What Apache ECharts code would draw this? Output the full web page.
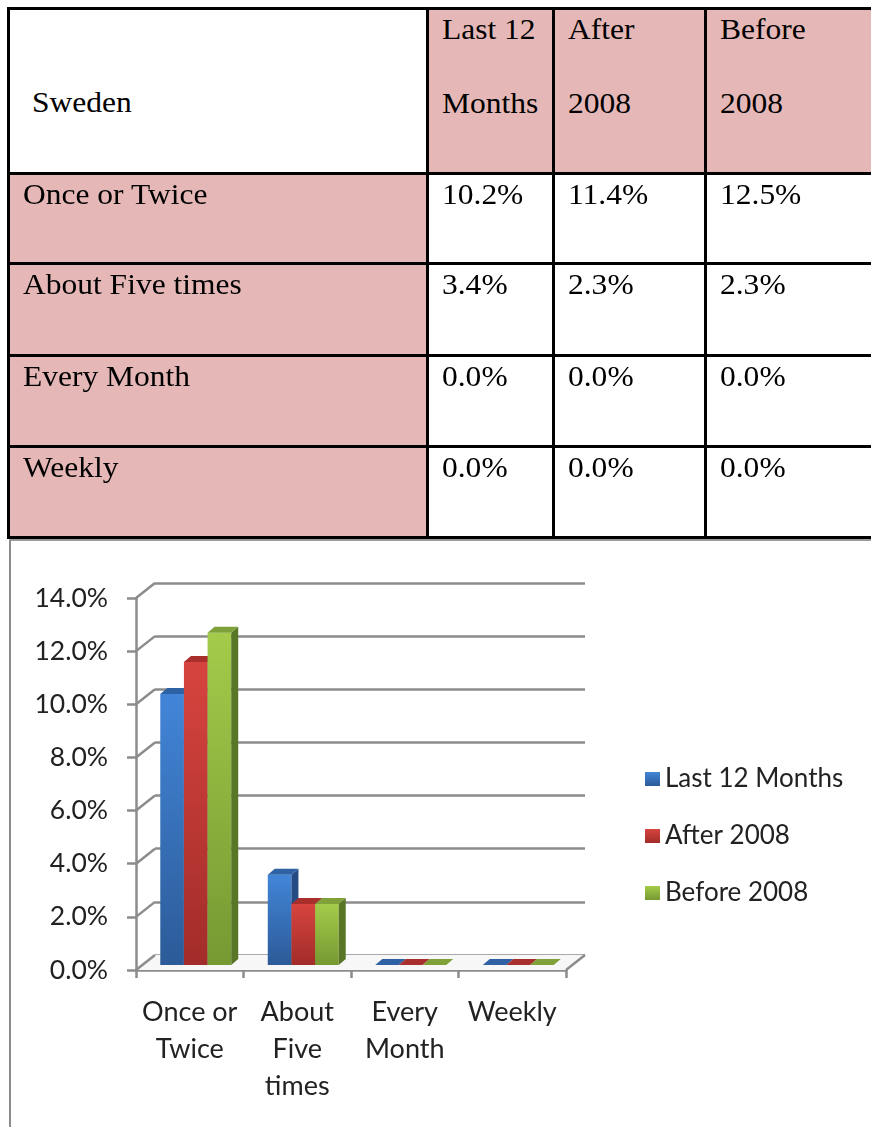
<!DOCTYPE html>
<html>
<head>
<meta charset="utf-8">
<script src="https://cdn.jsdelivr.net/npm/echarts@6/dist/echarts.min.js"></script>
<style>
  html, body { margin: 0; padding: 0; background: #fff; overflow: hidden; }
  #page { position: relative; width: 871px; height: 1127px; overflow: hidden; }
  #main { position: absolute; left: 0; top: 0; width: 871px; height: 1127px; }
  #frame { position: absolute; left: 9px; top: 539px; width: 900px; height: 700px;
           border-left: 2px solid #8c8c8c; border-top: 2px solid #8c8c8c; }
  #table { position: absolute; left: 0; top: 0; width: 871px; height: 541px; }
  .cell { position: absolute; }
  .line { position: absolute; background: #000; }
  .txt { position: absolute; font-family: "Liberation Serif"; font-weight: normal;
         font-size: 30px; line-height: 30px; color: #000; white-space: pre;
         transform: scaleX(1.05); transform-origin: 0 0; }
</style>
</head>
<body>
<div id="page">
  <div id="frame"></div>
  <div id="main"></div>
  <div id="table"></div>
</div>
<script>
// data
var CATEGORIES = ['Once or Twice', 'About Five times', 'Every Month', 'Weekly'];
var AXIS_LABELS = ['Once or\nTwice', 'About\nFive\ntimes', 'Every\nMonth', 'Weekly'];
var SERIES_NAMES = ['Last 12 Months', 'After 2008', 'Before 2008'];
var LAST_12 = [10.2, 3.4, 0.0, 0.0];
var AFTER_2008 = [11.4, 2.3, 0.0, 0.0];
var BEFORE_2008 = [12.5, 2.3, 0.0, 0.0];
var Y_TICKS = [0, 2, 4, 6, 8, 10, 12, 14];
var HEADER = ['Sweden', 'Last 12\nMonths', 'After\n2008', 'Before\n2008'];

var SERIES_VALUES = [LAST_12, AFTER_2008, BEFORE_2008];

// ---- table on top ----
var colEdges = [8, 427, 553, 705, 900];
var rowEdges = [8, 173, 263, 355, 446, 537];
var PINK = '#E5B8B7';
var tbl = document.getElementById('table');

function addDiv(cls, css, text) {
  var d = document.createElement('div');
  d.className = cls;
  for (var k in css) d.style[k] = css[k];
  if (text != null) d.textContent = text;
  tbl.appendChild(d);
  return d;
}

for (var r = 0; r < rowEdges.length - 1; r++) {
  for (var c = 0; c < colEdges.length - 1; c++) {
    var pink = (r === 0 && c > 0) || (r > 0 && c === 0);
    addDiv('cell', {
      left: colEdges[c] + 'px', top: rowEdges[r] + 'px',
      width: (colEdges[c + 1] - colEdges[c]) + 'px',
      height: (rowEdges[r + 1] - rowEdges[r]) + 'px',
      background: pink ? PINK : '#fff'
    });
    var text;
    if (r === 0) text = HEADER[c];
    else if (c === 0) text = CATEGORIES[r - 1];
    else text = SERIES_VALUES[c - 1][r - 1].toFixed(1) + '%';
    var lines = text.split('\n');
    if (r === 0 && c === 0) {
      addDiv('txt', { left: '32px', top: '87px' }, text);
    } else {
      lines.forEach(function (ln, i) {
        addDiv('txt', { left: (colEdges[c] + 15) + 'px', top: (rowEdges[r] + 6 + i * 74) + 'px' }, ln);
      });
    }
  }
}
rowEdges.forEach(function (y) {
  addDiv('line', { left: '7px', top: (y - 1) + 'px', width: '900px', height: '3px' });
});
colEdges.slice(0, 4).forEach(function (x) {
  addDiv('line', { left: (x - 1) + 'px', top: '7px', width: '3px', height: (537 - 7 + 2) + 'px' });
});
addDiv('line', { left: '9px', top: '539px', width: '900px', height: '2px', background: '#9a9a9a' });

// ---- chart ----
var chart = echarts.init(document.getElementById('main'));

var GRAY = '#8c8c8c';
var FONT = 'Lato';
var DEPTH = [19, -15];      // front plane -> back wall
var BAR_DEPTH = [7, -6];    // thickness of each bar
var COLORS = [
  { top: '#4285D8', bottom: '#2C5B98', side: '#244B84', cap: '#2E62A5' },
  { top: '#D7443F', bottom: '#A22C29', side: '#862321', cap: '#A82F2B' },
  { top: '#A4CB4A', bottom: '#769932', side: '#587626', cap: '#80A139' }
];

function grad(c) {
  return new echarts.graphic.LinearGradient(0, 0, 0, 1, [
    { offset: 0, color: c.top }, { offset: 1, color: c.bottom }
  ]);
}

function barSeries(idx) {
  return {
    type: 'custom',
    name: SERIES_NAMES[idx],
    xAxisIndex: 2,
    yAxisIndex: 2,
    z: 5,
    silent: true,
    itemStyle: { color: grad(COLORS[idx]) },
    encode: { x: 0, y: 1 },
    data: SERIES_VALUES[idx].map(function (v, i) { return [i, v]; }),
    renderItem: function (params, api) {
      var ci = api.value(0), v = api.value(1);
      var top = api.coord([ci, v]);
      var base = api.coord([ci, 0]);
      var bw = api.size([1, 0])[0];
      var groupW = bw * 0.66;
      var w = groupW / 3;
      var x = top[0] - groupW / 2 + idx * w;
      var dx = BAR_DEPTH[0], dy = BAR_DEPTH[1];
      var c = COLORS[idx];
      return {
        type: 'group',
        children: [
          { type: 'rect', shape: { x: x, y: top[1], width: w, height: Math.max(base[1] - top[1], 0.01) },
            style: { fill: grad(c) } },
          { type: 'polygon', shape: { points: [[x + w, top[1]], [x + w + dx, top[1] + dy], [x + w + dx, base[1] + dy], [x + w, base[1]]] },
            style: { fill: c.side } },
          { type: 'polygon', shape: { points: [[x, top[1]], [x + dx, top[1] + dy], [x + w + dx, top[1] + dy], [x + w, top[1]]] },
            style: { fill: c.cap } }
        ]
      };
    }
  };
}

var option = {
  animation: false,
  backgroundColor: 'transparent',
  grid: [
    { left: 136, top: 598, width: 430, height: 372, outerBoundsMode: 'none' },
    { left: 136 + DEPTH[0], top: 598 + DEPTH[1], width: 430, height: 372, outerBoundsMode: 'none' },
    { left: 142, top: 593, width: 430, height: 372, outerBoundsMode: 'none' }
  ],
  legend: {
    data: SERIES_NAMES,
    orient: 'vertical',
    left: 640,
    top: 761,
    padding: 5,
    icon: 'rect',
    itemWidth: 15,
    itemHeight: 14,
    itemGap: 31,
    selectedMode: false,
    textStyle: { fontFamily: FONT, fontSize: 26, color: '#222', padding: [0, 0, 0, 0] }
  },
  xAxis: [
    {
      type: 'category', gridIndex: 0, data: AXIS_LABELS, boundaryGap: true,
      axisLine: { lineStyle: { color: GRAY, width: 2.5 } },
      axisTick: { show: true, length: 8, alignWithLabel: false, interval: 0, lineStyle: { color: GRAY, width: 2.5 } },
      axisLabel: { interval: 0, margin: 24, fontFamily: FONT, fontSize: 27, lineHeight: 37, color: '#222' },
      splitLine: { show: false }
    },
    { type: 'category', gridIndex: 1, data: AXIS_LABELS, show: false },
    { type: 'category', gridIndex: 2, data: AXIS_LABELS, show: false }
  ],
  yAxis: [
    {
      type: 'value', gridIndex: 0, min: Y_TICKS[0], max: Y_TICKS[Y_TICKS.length - 1], interval: 2,
      axisLine: { show: true, lineStyle: { color: GRAY, width: 2.5 } },
      axisTick: { show: true, length: 9, lineStyle: { color: GRAY, width: 2.5 } },
      axisLabel: { margin: 28, fontFamily: FONT, fontSize: 26.5, color: '#222',
        formatter: function (v) { return v.toFixed(1) + '%'; } },
      splitLine: { show: false }
    },
    {
      type: 'value', gridIndex: 1, min: Y_TICKS[0], max: Y_TICKS[Y_TICKS.length - 1], interval: 2,
      axisLine: { show: false }, axisTick: { show: false }, axisLabel: { show: false },
      splitLine: { show: true, lineStyle: { color: GRAY, width: 2.5 } }
    },
    {
      type: 'value', gridIndex: 2, min: Y_TICKS[0], max: Y_TICKS[Y_TICKS.length - 1], interval: 2,
      show: false
    }
  ],
  series: [
    {
      // floor + the short depth lines at every y tick
      type: 'custom',
      xAxisIndex: 0, yAxisIndex: 0, z: 1, silent: true,
      data: Y_TICKS.map(function (t) { return [0, t]; }),
      encode: { x: 0, y: 1 },
      renderItem: function (params, api) {
        var p = api.coord([0, api.value(1)]);
        var bw = api.size([1, 0])[0];
        var x0 = p[0] - bw / 2;
        var children = [
          { type: 'line', shape: { x1: x0, y1: p[1], x2: x0 + DEPTH[0], y2: p[1] + DEPTH[1] },
            style: { stroke: GRAY, lineWidth: 2.5 } }
        ];
        if (api.value(1) === 0) {
          var q = api.coord([CATEGORIES.length - 1, 0]);
          var x1 = q[0] + bw / 2;
          children.unshift({ type: 'polygon',
            shape: { points: [[x0, p[1]], [x1, p[1]], [x1 + DEPTH[0], p[1] + DEPTH[1]], [x0 + DEPTH[0], p[1] + DEPTH[1]]] },
            style: { fill: '#f7f7f7' } });
          children.push({ type: 'line', shape: { x1: x1, y1: q[1], x2: x1 + DEPTH[0], y2: q[1] + DEPTH[1] },
            style: { stroke: GRAY, lineWidth: 2.5 } });
        }
        return { type: 'group', children: children };
      }
    },
    barSeries(0),
    barSeries(1),
    barSeries(2)
  ]
};
chart.setOption(option);
</script>
</body>
</html>
